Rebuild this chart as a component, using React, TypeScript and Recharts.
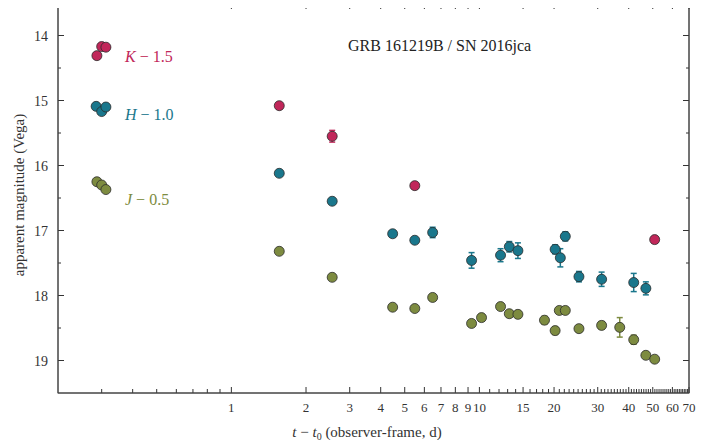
import React from 'react';
import { ScatterChart, Scatter, XAxis, YAxis, ErrorBar } from 'recharts';

// K - 1.5
const kTime = [0.287, 0.300, 0.312, 1.56, 2.55, 5.49, 50.9];
const kMag = [14.31, 14.17, 14.18, 15.08, 15.55, 16.31, 17.14];
const kErr = [0.03, 0.03, 0.03, 0.03, 0.09, 0.03, 0.03];

// H - 1.0
const hTime = [0.285, 0.300, 0.312, 1.56, 2.55, 4.47, 5.49, 6.48, 9.3, 12.17, 13.2, 14.3, 20.2, 21.2, 22.2, 25.2, 31.1, 41.9, 46.9];
const hMag = [15.09, 15.17, 15.1, 16.12, 16.55, 17.05, 17.15, 17.03, 17.46, 17.38, 17.25, 17.31, 17.29, 17.42, 17.09, 17.71, 17.75, 17.8, 17.89];
const hErr = [0.03, 0.03, 0.03, 0.03, 0.03, 0.03, 0.03, 0.08, 0.12, 0.1, 0.08, 0.12, 0.07, 0.14, 0.07, 0.08, 0.11, 0.14, 0.1];

// J - 0.5
const jTime = [0.287, 0.300, 0.312, 1.56, 2.55, 4.47, 5.49, 6.48, 9.3, 10.2, 12.17, 13.2, 14.3, 18.3, 20.2, 21.0, 22.2, 25.2, 31.1, 36.8, 41.9, 46.9, 50.9];
const jMag = [16.25, 16.3, 16.37, 17.32, 17.72, 18.18, 18.2, 18.03, 18.43, 18.34, 18.17, 18.28, 18.29, 18.38, 18.54, 18.23, 18.23, 18.51, 18.46, 18.49, 18.68, 18.92, 18.98];
const jErr = [0.03, 0.03, 0.03, 0.03, 0.03, 0.03, 0.03, 0.05, 0.03, 0.03, 0.04, 0.03, 0.05, 0.06, 0.06, 0.04, 0.05, 0.04, 0.06, 0.15, 0.07, 0.05, 0.03];

const xLabels = [1, 2, 3, 4, 5, 6, 7, 8, 9, 10, 15, 20, 30, 40, 50, 60, 70];
const xMinor = [0.3, 0.4, 0.5, 0.6, 0.7, 0.8, 0.9];
const xTicks = [...xMinor, ...Array.from({ length: 70 }, (_, i) => i + 1)];
const yTicks = [14, 14.5, 15, 15.5, 16, 16.5, 17, 17.5, 18, 18.5, 19];

const K_COLOR = '#c1275a';
const H_COLOR = '#1a778c';
const J_COLOR = '#7d8b40';
const FONT = '"Liberation Serif", "DejaVu Serif", serif';

const build = (t: number[], m: number[], e: number[]) => t.map((v, i) => ({ t: v, m: m[i], err: e[i] }));
const kData = build(kTime, kMag, kErr);
const hData = build(hTime, hMag, hErr);
const jData = build(jTime, jMag, jErr);

const dot = (color: string) => (p: any) => (
  <circle cx={p.cx} cy={p.cy} r={5} fill={color} stroke="#2b2b2b" strokeWidth={0.8} />
);

const XTick = ({ x, y, payload, top }: any) => {
  const v = payload.value;
  const lab = xLabels.includes(v);
  const len = lab ? 6 : 4;
  return (
    <g>
      <line x1={x} x2={x} y1={y} y2={top ? y + len : y - len} stroke="#333" />
      {!top && lab && (
        <text x={x} y={y + 19} textAnchor="middle" fontSize={13} fontFamily={FONT} fill="#333">{v}</text>
      )}
    </g>
  );
};

const YTick = ({ x, y, payload, right }: any) => {
  const major = Number.isInteger(payload.value);
  const len = major ? 6 : 3;
  return (
    <g>
      <line x1={x} x2={right ? x - len : x + len} y1={y} y2={y} stroke="#333" />
      {!right && major && (
        <text x={x - 10} y={y + 5} textAnchor="end" fontSize={14} fontFamily={FONT} fill="#333">{payload.value}</text>
      )}
    </g>
  );
};

export default function App() {
  return (
    <div style={{ position: 'relative', width: 718, height: 448, margin: -8, background: '#fff' }}>
      <ScatterChart width={718} height={448} margin={{ top: 2, right: 28, bottom: 0, left: 0 }}>
        <XAxis xAxisId="b" dataKey="t" type="number" scale="log" domain={[0.2, 70]} allowDataOverflow
          ticks={xTicks} interval={0} tickSize={0} tickMargin={0} tickLine={false}
          tick={<XTick />} height={55} stroke="#444" />
        <XAxis xAxisId="t" orientation="top" dataKey="t" type="number" scale="log" domain={[0.2, 70]} allowDataOverflow
          ticks={xTicks} interval={0} tickSize={0} tickMargin={0} tickLine={false}
          tick={<XTick top />} height={1} stroke="#444" />
        <YAxis yAxisId="l" dataKey="m" type="number" reversed domain={[13.5, 19.5]} allowDataOverflow
          ticks={yTicks} interval={0} tickSize={0} tickMargin={0} tickLine={false}
          tick={<YTick />} width={58} stroke="#444" />
        <YAxis yAxisId="r" orientation="right" dataKey="m" type="number" reversed domain={[13.5, 19.5]} allowDataOverflow
          ticks={yTicks} interval={0} tickSize={0} tickMargin={0} tickLine={false}
          tick={<YTick right />} width={1} stroke="#444" />
        <Scatter xAxisId="b" yAxisId="l" data={kData} shape={dot(K_COLOR)} isAnimationActive={false}>
          <ErrorBar dataKey="err" direction="y" stroke={K_COLOR} width={3} />
        </Scatter>
        <Scatter xAxisId="b" yAxisId="l" data={hData} shape={dot(H_COLOR)} isAnimationActive={false}>
          <ErrorBar dataKey="err" direction="y" stroke={H_COLOR} width={3} />
        </Scatter>
        <Scatter xAxisId="b" yAxisId="l" data={jData} shape={dot(J_COLOR)} isAnimationActive={false}>
          <ErrorBar dataKey="err" direction="y" stroke={J_COLOR} width={3} />
        </Scatter>
      </ScatterChart>
      <svg width={718} height={448} style={{ position: 'absolute', left: 0, top: 0, pointerEvents: 'none' }}>
        <rect x={58} y={3} width={631} height={390} fill="none" stroke="#444" strokeWidth={1} />
        <g fontFamily={FONT}>
          <text x={348} y={51} fontSize={16} fill="#222">GRB 161219B / SN 2016jca</text>
          <text x={125} y={62} fontSize={16} fill={K_COLOR}><tspan fontStyle="italic">K</tspan> − 1.5</text>
          <text x={125} y={120} fontSize={16} fill={H_COLOR}><tspan fontStyle="italic">H</tspan> − 1.0</text>
          <text x={125} y={205} fontSize={16} fill={J_COLOR}><tspan fontStyle="italic">J</tspan> − 0.5</text>
          <text x={0} y={0} fontSize={15} fill="#333" textAnchor="middle" transform="translate(24,195) rotate(-90)">apparent magnitude (Vega)</text>
          <text x={367} y={437} fontSize={15} fill="#333" textAnchor="middle">
            <tspan fontStyle="italic">t</tspan> − <tspan fontStyle="italic">t</tspan><tspan fontSize={10} dy={3}>0</tspan><tspan dy={-3}> (observer-frame, d)</tspan>
          </text>
        </g>
      </svg>
    </div>
  );
}
